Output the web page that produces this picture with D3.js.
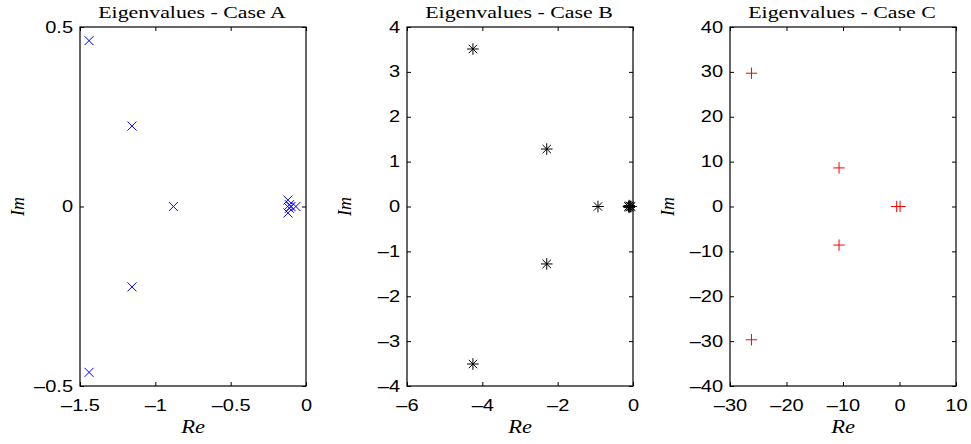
<!DOCTYPE html>
<html>
<head>
<meta charset="utf-8">
<script src="https://cdn.jsdelivr.net/npm/d3@7"></script>
<style>
  body { margin: 0; background: #fff; }
  svg { display: block; }
  .tick text { font-family: "Liberation Sans", Arial, sans-serif; font-size: 16px; fill: #000; }
  .title { font-family: "Liberation Serif", "Times New Roman", serif; font-size: 17.5px; }
  .lab { font-family: "Liberation Serif", "Times New Roman", serif; font-style: italic; font-size: 18px; }
</style>
</head>
<body>
<svg id="chart" width="971" height="444"></svg>
<script>
var caseA = [[-1.44, 0.462], [-1.44, -0.462], [-1.155, 0.224], [-1.155, -0.224], [-0.88, 0],
             [-0.12, 0.018], [-0.12, -0.018], [-0.067, 0], [-0.10, 0], [-0.11, 0.005], [-0.11, -0.005]];
var caseB = [[-4.25, 3.51], [-4.25, -3.51], [-2.29, 1.28], [-2.29, -1.28], [-0.93, 0],
             [-0.12, 0], [-0.1, 0.02], [-0.1, -0.02], [-0.07, 0], [-0.05, 0]];
var caseC = [[-26.2, 29.7], [-26.2, -29.7], [-10.7, 8.6], [-10.7, -8.6], [-0.5, 0], [0.1, 0]];

var xTicksA = [-1.5, -1, -0.5, 0], yTicksA = [-0.5, 0, 0.5];
var xTicksB = [-6, -4, -2, 0], yTicksB = [-4, -3, -2, -1, 0, 1, 2, 3, 4];
var xTicksC = [-30, -20, -10, 0, 10], yTicksC = [-40, -30, -20, -10, 0, 10, 20, 30, 40];

var svg = d3.select("#chart");

var panels = [
  { title: "Eigenvalues - Case A", data: caseA, left: 80, xd: [-1.5, 0], yd: [-0.5, 0.5],
    xt: xTicksA, yt: yTicksA, marker: "x", color: "#0000ff" },
  { title: "Eigenvalues - Case B", data: caseB, left: 407, xd: [-6, 0], yd: [-4, 4],
    xt: xTicksB, yt: yTicksB, marker: "*", color: "#000" },
  { title: "Eigenvalues - Case C", data: caseC, left: 730, xd: [-30, 10], yd: [-40, 40],
    xt: xTicksC, yt: yTicksC, marker: "+", color: "#ff0000" }
];

// note: "top" is taken by window.top, so plotTop
var plotTop = 27, w = 226, h = 359;
// the reference text is stretched sideways a bit
var sx = 1.25, stretch = "scale(" + sx + ",1)";
var fmt = function (d) { return d3.format("")(d).replace("-", "\u2013").replace("\u2212", "\u2013"); };

// marker shapes as path strings, centered on 0,0
function markerPath(type) {
  var s;
  if (type === "x") { s = 4.5; return "M" + -s + "," + -s + "L" + s + "," + s + "M" + -s + "," + s + "L" + s + "," + -s; }
  if (type === "+") { s = 5.7; return "M" + -s + ",0L" + s + ",0M0," + -s + "L0," + s; }
  // asterisk: plus and cross together
  s = 5.8; var d = 4.2;
  return "M" + -s + ",0L" + s + ",0M0," + -s + "L0," + s +
         "M" + -d + "," + -d + "L" + d + "," + d + "M" + -d + "," + d + "L" + d + "," + -d;
}

panels.forEach(function (p) {
  var g = svg.append("g").attr("transform", "translate(" + p.left + "," + plotTop + ")");
  var x = d3.scaleLinear().domain(p.xd).range([0, w]);
  var y = d3.scaleLinear().domain(p.yd).range([h, 0]);

  // inward ticks on all four sides, labels only bottom/left
  g.append("g").attr("transform", "translate(0," + h + ")")
    .call(d3.axisBottom(x).tickValues(p.xt).tickFormat(fmt).tickSizeInner(-4).tickSizeOuter(0).tickPadding(14))
    .selectAll("text").attr("transform", stretch);
  g.append("g")
    .call(d3.axisTop(x).tickValues(p.xt).tickFormat("").tickSizeInner(-4).tickSizeOuter(0));
  g.append("g")
    .call(d3.axisLeft(y).tickValues(p.yt).tickFormat(fmt).tickSizeInner(-4).tickSizeOuter(0))
    .selectAll("text").attr("x", -7 / sx).attr("transform", stretch);
  g.append("g").attr("transform", "translate(" + w + ",0)")
    .call(d3.axisRight(y).tickValues(p.yt).tickFormat("").tickSizeInner(-4).tickSizeOuter(0));
  g.selectAll(".domain").remove();
  g.selectAll(".tick line").attr("stroke", "#000");

  g.append("rect").attr("width", w).attr("height", h)
    .attr("fill", "none").attr("stroke", "#000").attr("stroke-width", 1.2);

  g.selectAll(".pt").data(p.data).enter().append("path")
    .attr("class", "pt")
    .attr("transform", function (d) { return "translate(" + x(d[0]) + "," + y(d[1]) + ")"; })
    .attr("d", markerPath(p.marker))
    .attr("stroke", p.color).attr("stroke-width", 1).attr("fill", "none");

  g.append("text").attr("class", "title")
    .attr("transform", "translate(" + (w / 2 - 1) + ",-9) " + stretch)
    .attr("text-anchor", "middle").text(p.title);
  g.append("text").attr("class", "lab")
    .attr("transform", "translate(" + (w / 2) + "," + (h + 47) + ") " + stretch)
    .attr("text-anchor", "middle").text("Re");
  g.append("text").attr("class", "lab")
    .attr("transform", "translate(" + (-56) + "," + (h / 2) + ") rotate(-90)")
    .attr("text-anchor", "middle").text("Im");
});
</script>
</body>
</html>
